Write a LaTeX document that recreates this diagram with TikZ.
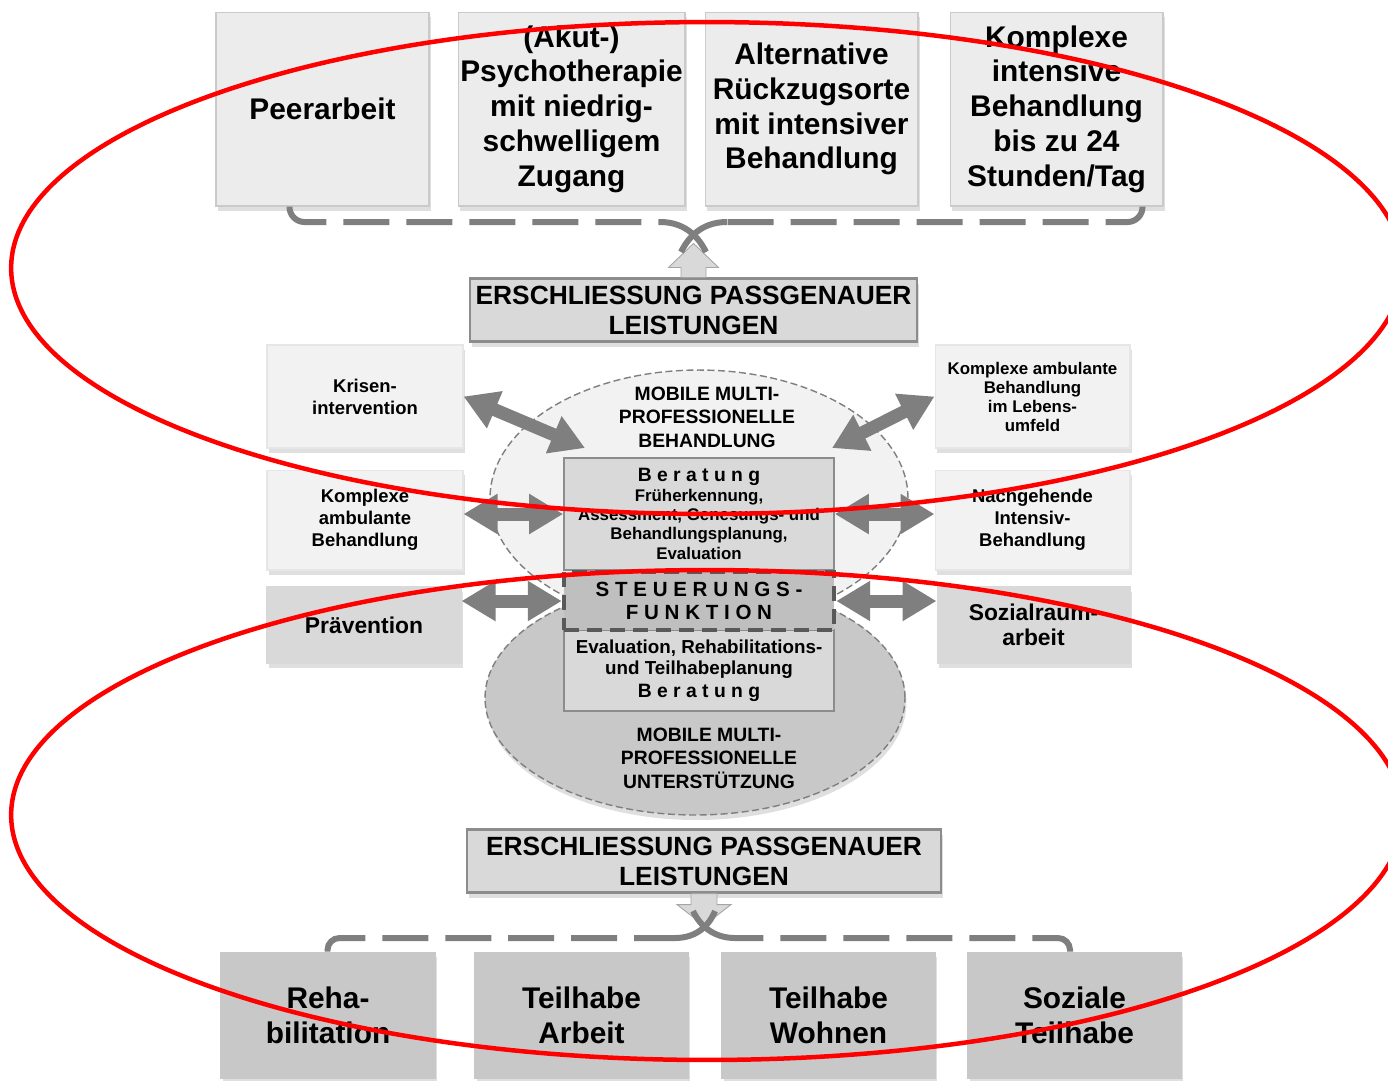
\documentclass[tikz,border=0pt]{standalone}
\usepackage{fontspec}
\setmainfont{Liberation Sans}
\usetikzlibrary{arrows.meta, shadows, shapes.geometric}
\definecolor{gBoxTop}{HTML}{ECECEC}
\definecolor{gBoxSide}{HTML}{F2F2F2}
\definecolor{gBoxMid}{HTML}{D9D9D9}
\definecolor{gBoxLow}{HTML}{C8C8C8}
\definecolor{gEdge}{HTML}{CACACA}
\definecolor{gFrame}{HTML}{8C8C8C}
\definecolor{gArrow}{HTML}{7F7F7F}
\definecolor{gSteer}{HTML}{BFBFBF}
\definecolor{gDark}{HTML}{595959}
\definecolor{mRed}{HTML}{FF0000}

\begin{document}
\begin{tikzpicture}[x=0.02cm, y=-0.02cm, font=\bfseries,
    box/.style={rectangle, draw=gEdge, line width=0.6pt, align=center, inner sep=0pt,
                drop shadow={shadow xshift=0.04cm, shadow yshift=-0.1cm, opacity=0.25}},
    topbox/.style={box, fill=gBoxTop, minimum width=4.26cm, minimum height=3.88cm,
                   font=\fontsize{17}{19.8}\selectfont\bfseries},
    sidebox/.style={box, fill=gBoxSide, draw=gBoxSide!95!black, minimum width=3.92cm,
                    minimum height=2.06cm, font=\fontsize{10.5}{12.5}\selectfont\bfseries},
    sidedark/.style={box, fill=gBoxMid, draw=gBoxMid, minimum width=3.88cm, minimum height=1.52cm,
                     font=\fontsize{13}{14.2}\selectfont\bfseries},
    lowbox/.style={box, fill=gBoxLow, draw=gBoxLow, minimum width=4.28cm, minimum height=2.52cm,
                   font=\fontsize{17}{19.8}\selectfont\bfseries},
    titlebox/.style={box, fill=gBoxMid, draw=gFrame, line width=1.2pt, minimum height=1.26cm,
                     font=\fontsize{15}{17}\selectfont\bfseries},
    core/.style={rectangle, draw=gFrame, line width=1pt, fill=gBoxMid, minimum width=5.4cm,
                 align=center, inner sep=0pt},
    cloud/.style={ellipse, draw=gArrow, line width=0.8pt, dash pattern=on 4pt off 2pt, inner sep=0pt},
    cloudtxt/.style={align=center, font=\fontsize{11}{13.3}\selectfont\bfseries},
    dblarrow/.style={draw=gArrow, line width=0.26cm,
                     {Triangle[length=0.68cm, width=0.76cm]}-{Triangle[length=0.68cm, width=0.76cm]}},
    blockarrow/.style={fill=gBoxMid, draw=gArrow!70, line width=0.5pt},
    dashlink/.style={draw=gArrow, line width=0.12cm, dash pattern=on 0.92cm off 0.34cm},
    xlink/.style={draw=gArrow, line width=0.12cm},
    redring/.style={draw=mRed, line width=0.09cm}]

  \path[use as bounding box, fill=white] (0,0) rectangle (1388,1080);

  % top row
  \node[topbox] (peer) at (322.5,109) {Peerarbeit};
  \node[topbox, minimum width=4.54cm] (psy) at (571.5,109)
    {(Akut-)\\Psychotherapie\\mit niedrig-\\schwelligem\\Zugang};
  \node[topbox] (alt) at (811.5,109) {Alternative\\Rückzugsorte\\mit intensiver\\Behandlung};
  \node[topbox] (kib) at (1056.5,109) {Komplexe\\intensive\\Behandlung\\bis zu 24\\Stunden/Tag};

  \node[titlebox, minimum width=8.94cm] (erstop) at (693.5,310) {ERSCHLIESSUNG PASSGENAUER\\LEISTUNGEN};

  % centre
  \node[cloud, fill=gBoxSide, minimum width=8.36cm, minimum height=5.12cm] (mmbeh) at (699,498) {};
  \node[cloud, fill=gBoxLow, minimum width=8.4cm, minimum height=4.68cm,
        drop shadow={shadow xshift=0.03cm, shadow yshift=-0.1cm, opacity=0.25}] (mmunt) at (695,698) {};
  \node[cloudtxt] (mmbehtxt) at (707,417) {MOBILE MULTI-\\PROFESSIONELLE\\BEHANDLUNG};
  \node[cloudtxt] (mmunttxt) at (709,758) {MOBILE MULTI-\\PROFESSIONELLE\\UNTERSTÜTZUNG};

  \node[core, minimum height=2.24cm, font=\fontsize{9.6}{11}\selectfont\bfseries] (ber) at (699,514)
    {{\fontsize{11}{13}\selectfont B e r a t u n g}\\Früherkennung,\\Assessment, Genesungs- und\\Behandlungsplanung,\\Evaluation};
  \node[core, minimum height=1.62cm, font=\fontsize{10.7}{12}\selectfont\bfseries] (eva) at (699,670.5)
    {Evaluation, Rehabilitations-\\und Teilhabeplanung\\[1pt]{\fontsize{11}{13}\selectfont B e r a t u n g}};
  \node[core, fill=gSteer, draw=gDark, line width=0.09cm, dash pattern=on 0.3cm off 0.16cm,
        minimum height=1.16cm, font=\fontsize{11.7}{13}\selectfont\bfseries] (steu) at (699,601)
    {S T E U E R U N G S -\\F U N K T I O N};

  % side boxes
  \node[sidebox] (kris) at (365,396.5) {Krisen-\\intervention};
  \node[sidebox, minimum height=2.0cm] (kab) at (365,520) {Komplexe\\ambulante\\Behandlung};
  \node[sidedark] (prav) at (364,625) {Prävention};
  \node[sidebox, minimum width=3.9cm, font=\fontsize{9.6}{10.8}\selectfont\bfseries] (kabl) at (1032.5,396.5)
    {Komplexe ambulante\\Behandlung\\im Lebens-\\umfeld};
  \node[sidebox, minimum width=3.9cm, minimum height=2.0cm] (nach) at (1032.5,520)
    {Nachgehende\\Intensiv-\\Behandlung};
  \node[sidedark, minimum width=3.86cm] (sozr) at (1033.5,625) {Sozialraum-\\arbeit};

  \coordinate (krisTip) at (585,448);
  \coordinate (kablTip) at (832,448);
  \draw[dblarrow] (kris.east) -- (krisTip);
  \draw[dblarrow] (kab.east |- ber.west) -- (ber.west);
  \draw[dblarrow] (prav.east |- steu.west) -- (steu.west);
  \draw[dblarrow] (kablTip) -- (kabl.west);
  \draw[dblarrow] (ber.east) -- (nach.west |- ber.east);
  \draw[dblarrow] (steu.east) -- (sozr.west |- steu.east);

  % bottom row
  \node[titlebox, minimum width=9.48cm] (ersbot) at (704,861) {ERSCHLIESSUNG PASSGENAUER\\LEISTUNGEN};

  \draw[blockarrow] (erstop.north) ++(-12.5,0) -- ++(0,-10) -- ++(-12.5,0) -- ++(25,-24)
    -- ++(25,24) -- ++(-12.5,0) -- ++(0,10) -- cycle;
  \draw[blockarrow] (ersbot.south) ++(-13,0) -- ++(0,11) -- ++(-14,0) -- ++(27,21)
    -- ++(27,-21) -- ++(-14,0) -- ++(0,-11) -- cycle;

  \node[lowbox] (reha) at (328,1015) {Reha-\\bilitation};
  \node[lowbox] (tarb) at (581.5,1015) {Teilhabe\\Arbeit};
  \node[lowbox] (twoh) at (828.5,1015) {Teilhabe\\Wohnen};
  \node[lowbox] (sozt) at (1074.5,1015) {Soziale\\Teilhabe};

  % dashed links
  \coordinate (topL) at (660,222);
  \coordinate (topR) at (727,222);
  \coordinate (topXl) at (706,252);
  \coordinate (topXr) at (681,252);
  \draw[dashlink, rounded corners=0.3cm] (peer.south west) ++(74,0) |- (topL);
  \draw[xlink] (topL) .. controls (686,222) and (699,238) .. (topXl);
  \draw[dashlink, rounded corners=0.3cm] (kib.south east) ++(-21,0) |- (topR);
  \draw[xlink] (topR) .. controls (701,222) and (688,238) .. (topXr);

  \coordinate (lowL) at (675,938);
  \coordinate (lowR) at (735,938);
  \coordinate (lowXl) at (715,911);
  \coordinate (lowXr) at (693,911);
  \draw[dashlink, rounded corners=0.24cm] (reha.north west) ++(107,0) |- (lowL);
  \draw[xlink] (lowL) .. controls (696,938) and (709,926) .. (lowXl);
  \draw[dashlink, rounded corners=0.24cm] (sozt.north east) ++(-112,0) |- (lowR);
  \draw[xlink] (lowR) .. controls (714,938) and (700,926) .. (lowXr);

  % red rings
  \begin{scope}
    \clip (0,0) rectangle (1388,1080);
    \draw[redring] (707,268) ellipse [x radius=13.92cm, y radius=4.92cm];
    \draw[redring] (707,815) ellipse [x radius=13.92cm, y radius=4.9cm];
  \end{scope}
\end{tikzpicture}
\end{document}
